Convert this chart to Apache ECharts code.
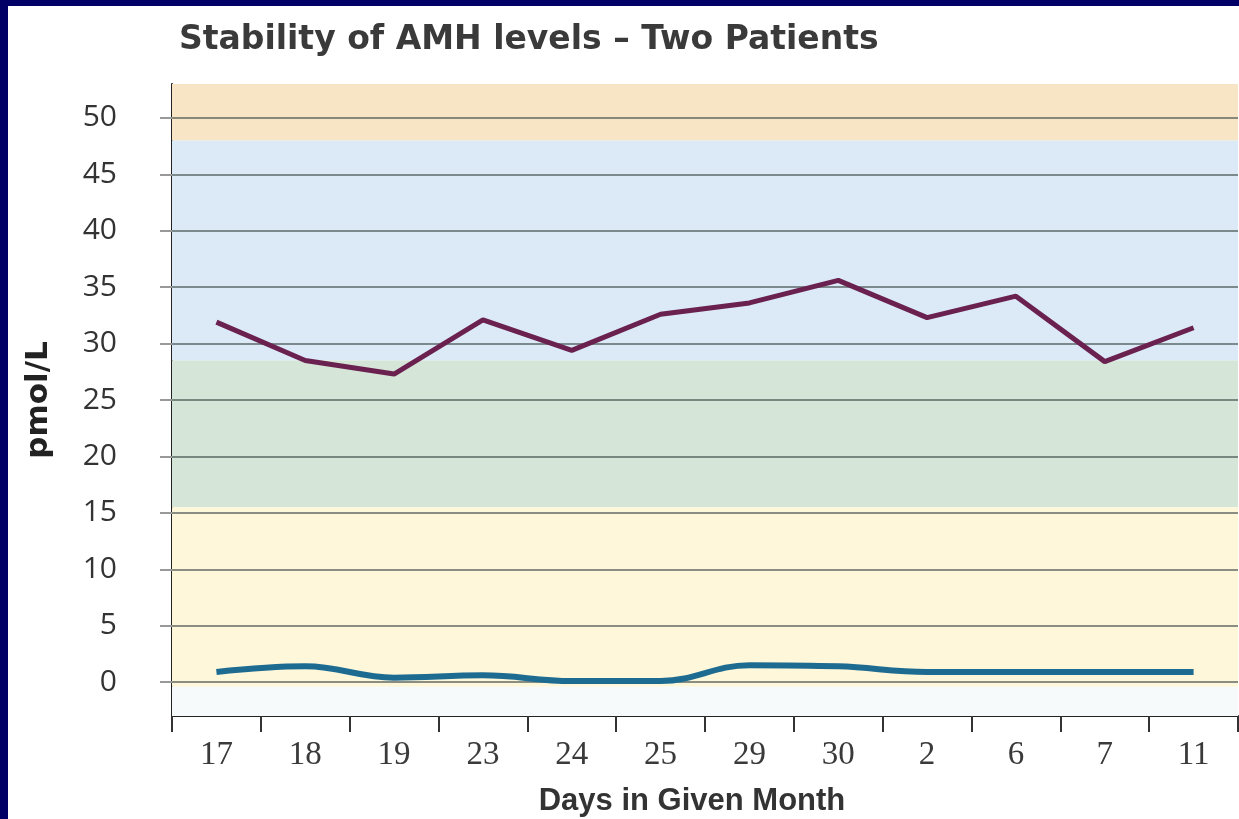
<!DOCTYPE html>
<html>
<head>
<meta charset="utf-8">
<script src="https://cdn.jsdelivr.net/npm/echarts@6/dist/echarts.min.js"></script>
<style>
  html, body { margin: 0; padding: 0; background: #000066; overflow: hidden; }
  #chart { position: absolute; left: 8px; top: 6px; width: 1231px; height: 813px; background: #ffffff; }
</style>
</head>
<body>
<div id="chart"></div>
<script>
// days of the month on which AMH was measured
var days = ['17', '18', '19', '23', '24', '25', '29', '30', '2', '6', '7', '11'];
// patient 1 (purple) and patient 2 (blue), pmol/L
var patientA = [31.9, 28.5, 27.3, 32.1, 29.4, 32.6, 33.6, 35.6, 32.3, 34.2, 28.4, 31.4];
var patientB = [0.9, 1.4, 0.4, 0.6, 0.1, 0.1, 1.5, 1.4, 0.9, 0.9, 0.9, 0.9];
// y tick values
var yTicks = [0, 5, 10, 15, 20, 25, 30, 35, 40, 45, 50];
// coloured reference bands [from, to, colour]
var bands = [
    [48, 53, '#f8e5c6'],
    [28.5, 48, '#dbeaf6'],
    [15.5, 28.5, '#d5e5d7'],
    [-0.4, 15.5, '#fef7da'],
    [-3, -0.4, '#f7fafa']
];

var chart = echarts.init(document.getElementById('chart'));

chart.setOption({
    animation: false,
    title: {
        text: 'Stability of AMH levels \u2013 Two Patients',
        left: 166,
        top: 13,
        textStyle: {
            fontFamily: 'DejaVu Sans',
            fontWeight: 'bold',
            fontSize: 33,
            color: '#3a3a3a'
        }
    },
    grid: {
        left: 164,
        right: 1,
        top: 78,
        bottom: 103,
        outerBoundsMode: 'none'
    },
    xAxis: {
        type: 'category',
        data: days,
        boundaryGap: true,
        name: 'Days in Given Month',
        nameLocation: 'middle',
        nameGap: 70,
        nameTextStyle: {
            fontFamily: 'Liberation Sans',
            fontWeight: 'bold',
            fontSize: 31,
            color: '#333',
            padding: [0, 26, 0, 0]
        },
        axisLine: { onZero: false, lineStyle: { color: '#222', width: 2 } },
        axisTick: { show: true, length: 16, lineStyle: { color: '#333', width: 2 } },
        axisLabel: {
            fontFamily: 'Liberation Serif',
            fontSize: 33,
            color: '#3a3a3a',
            margin: 23
        }
    },
    yAxis: {
        type: 'value',
        min: -3,
        max: 53,
        name: 'pmol/L',
        nameLocation: 'middle',
        nameRotate: 90,
        nameGap: 118,
        nameTextStyle: {
            fontFamily: 'DejaVu Sans',
            fontWeight: 'bold',
            fontSize: 31,
            color: '#222'
        },
        axisLine: { show: true, lineStyle: { color: '#222', width: 2 } },
        axisTick: {
            show: true,
            customValues: yTicks,
            length: 12,
            lineStyle: { color: '#999', width: 2 }
        },
        axisLabel: {
            customValues: yTicks,
            fontFamily: 'Open Sans',
            fontSize: 30,
            color: '#333',
            margin: 55
        },
        splitLine: { show: false }
    },
    series: [
        {
            name: 'Patient A',
            type: 'line',
            data: patientA,
            symbol: 'none',
            lineStyle: { color: '#6a2150', width: 5 },
            z: 5,
            markArea: {
                silent: true,
                data: bands.map(function (b) {
                    return [
                        { yAxis: b[0], itemStyle: { color: b[2] } },
                        { yAxis: b[1] }
                    ];
                })
            },
            markLine: {
                silent: true,
                symbol: 'none',
                label: { show: false },
                lineStyle: { color: 'rgba(60,72,72,0.6)', width: 2, type: 'solid' },
                data: yTicks.map(function (v) { return { yAxis: v }; })
            }
        },
        {
            name: 'Patient B',
            type: 'line',
            data: patientB,
            symbol: 'none',
            smooth: 0.4,
            lineStyle: { color: '#1e6b92', width: 6 },
            z: 5
        }
    ]
});
</script>
</body>
</html>
